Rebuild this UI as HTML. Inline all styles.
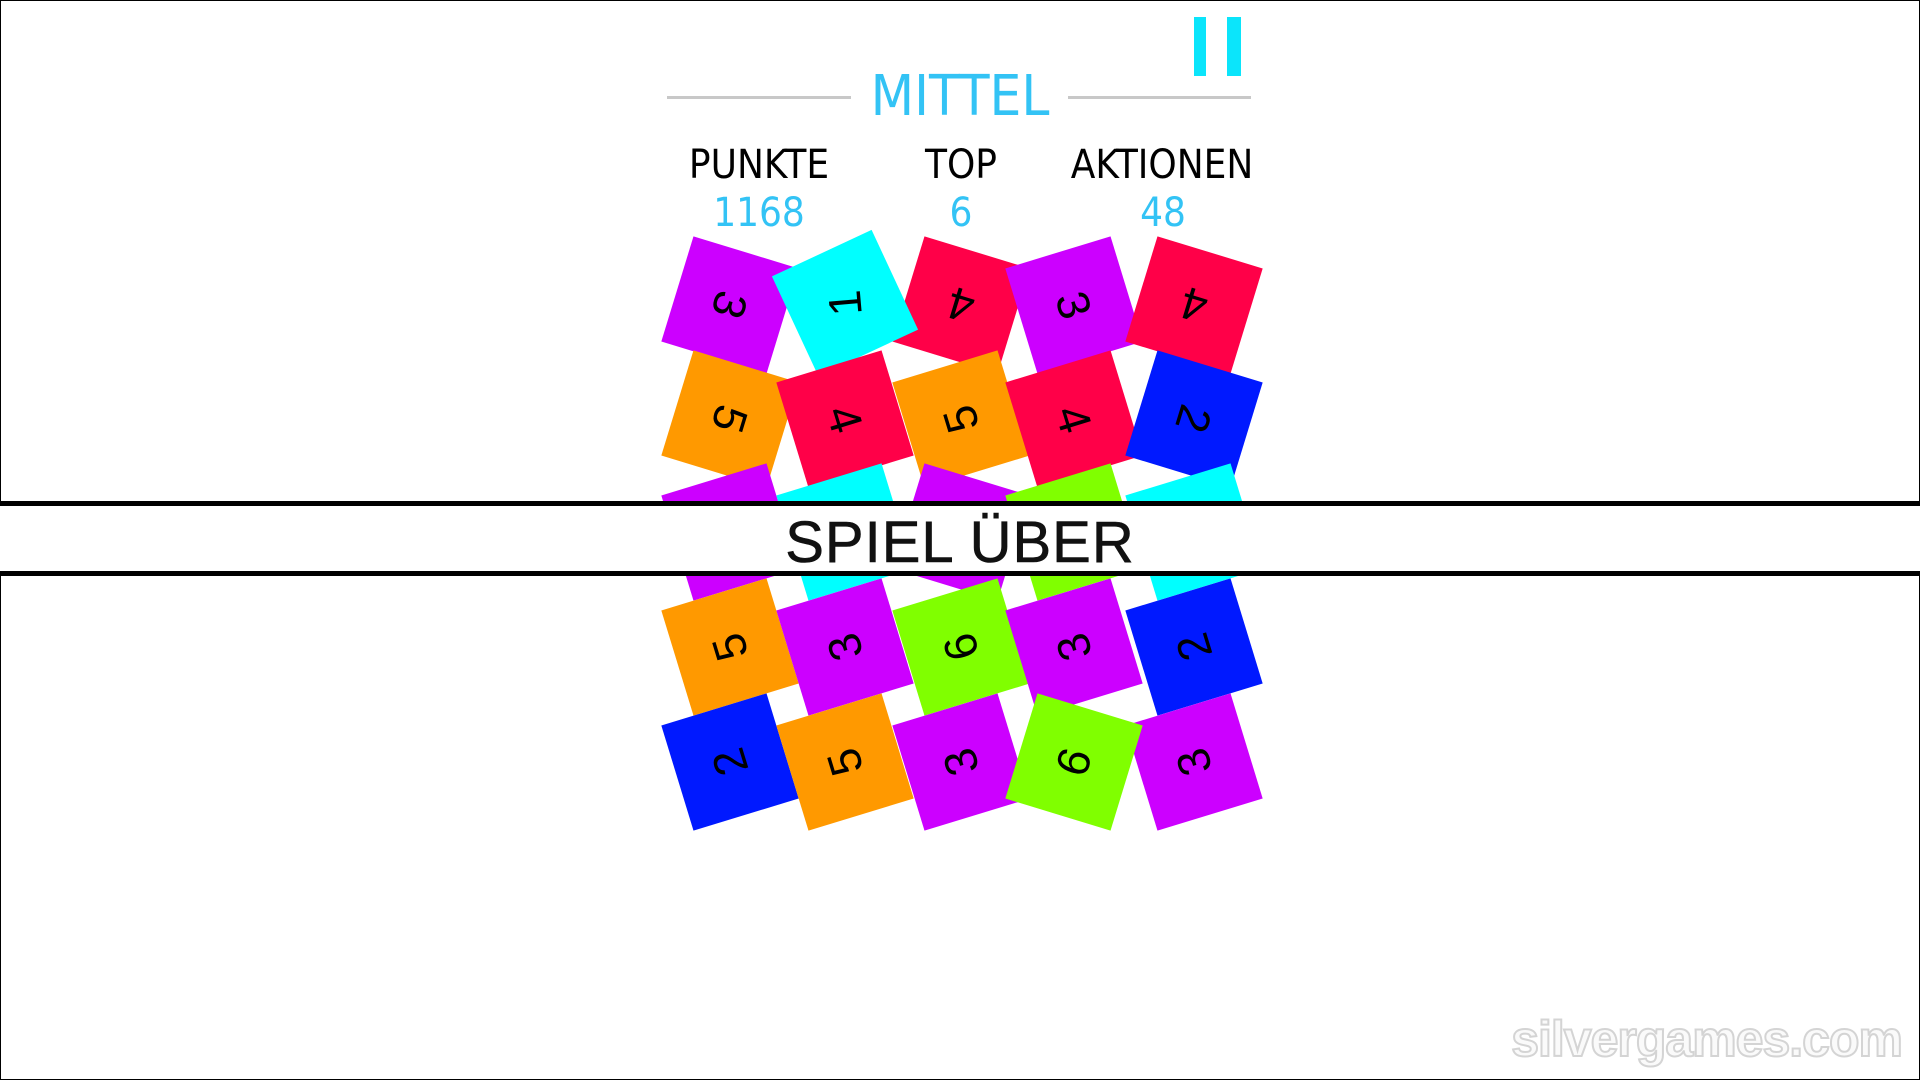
<!DOCTYPE html>
<html><head><meta charset="utf-8"><style>
body{margin:0;width:1920px;height:1080px;overflow:hidden;background:#fff;position:relative;font-family:"Liberation Sans",sans-serif}
.frame{position:absolute;left:0;top:0;width:1918px;height:1078px;border:1px solid #000}
.t{position:absolute;width:110px;height:110px;margin:-55px 0 0 -55px;display:flex;align-items:center;justify-content:center}
.t span{display:block;font-size:46px;color:#000;line-height:1}
.hl{position:absolute;height:3px;background:#c8c8c8;top:96px}
.lab{position:absolute;transform:translateX(-50%);font-family:"DejaVu Sans Condensed","Liberation Sans",sans-serif;white-space:nowrap}
</style></head><body>
<div class="frame"></div>
<div style="position:absolute;left:1194px;top:17px;width:12px;height:59px;background:#0be5fb"></div>
<div style="position:absolute;left:1227px;top:17px;width:14px;height:59px;background:#0be5fb"></div>
<div class="hl" style="left:667px;width:184px"></div>
<div class="hl" style="left:1068px;width:183px"></div>
<div class="lab" style="left:960px;top:64px;font-size:56px;color:#33c3f5">MITTEL</div>
<div class="lab" style="left:759px;top:142px;font-size:40px;color:#000">PUNKTE</div>
<div class="lab" style="left:961px;top:142px;font-size:40px;color:#000">TOP</div>
<div class="lab" style="left:1162px;top:142px;font-size:40px;color:#000">AKTIONEN</div>
<div class="lab" style="left:759px;top:190px;font-size:40px;color:#33c3f5">1168</div>
<div class="lab" style="left:961px;top:190px;font-size:40px;color:#33c3f5">6</div>
<div class="lab" style="left:1163px;top:190px;font-size:40px;color:#33c3f5">48</div>

<!-- row1 -->
<div class="t" style="left:730px;top:305px;background:#cc00ff;transform:rotate(17deg)"><span style="transform:rotate(90deg)">3</span></div>
<div class="t" style="left:961px;top:305px;background:#ff0048;transform:rotate(17deg)"><span style="transform:rotate(180deg)">4</span></div>
<div class="t" style="left:1074px;top:305px;background:#cc00ff;transform:rotate(-17deg)"><span style="transform:rotate(90deg)">3</span></div>
<div class="t" style="left:1194px;top:305px;background:#ff0048;transform:rotate(17deg)"><span style="transform:rotate(180deg)">4</span></div>
<div class="t" style="left:845px;top:303px;background:#00ffff;transform:rotate(-25deg)"><span style="transform:rotate(-70deg)">1</span></div>
<!-- row2 -->
<div class="t" style="left:730px;top:419px;background:#ff9900;transform:rotate(17deg)"><span style="transform:rotate(90deg)">5</span></div>
<div class="t" style="left:845px;top:419px;background:#ff0048;transform:rotate(-17deg)"><span style="transform:rotate(90deg)">4</span></div>
<div class="t" style="left:961px;top:419px;background:#ff9900;transform:rotate(-17deg)"><span style="transform:rotate(-90deg)">5</span></div>
<div class="t" style="left:1074px;top:419px;background:#ff0048;transform:rotate(-17deg)"><span style="transform:rotate(90deg)">4</span></div>
<div class="t" style="left:1194px;top:419px;background:#0019ff;transform:rotate(17deg)"><span style="transform:rotate(90deg)">2</span></div>
<!-- row3 -->
<div class="t" style="left:730px;top:532px;background:#cc00ff;transform:rotate(-17deg)"></div>
<div class="t" style="left:845px;top:532px;background:#00ffff;transform:rotate(-17deg)"></div>
<div class="t" style="left:961px;top:532px;background:#cc00ff;transform:rotate(17deg)"></div>
<div class="t" style="left:1074px;top:532px;background:#80ff00;transform:rotate(-17deg)"></div>
<div class="t" style="left:1194px;top:532px;background:#00ffff;transform:rotate(-17deg)"></div>
<!-- row4 -->
<div class="t" style="left:730px;top:647px;background:#ff9900;transform:rotate(-17deg)"><span style="transform:rotate(-90deg)">5</span></div>
<div class="t" style="left:845px;top:647px;background:#cc00ff;transform:rotate(-17deg)"><span style="transform:rotate(-90deg)">3</span></div>
<div class="t" style="left:961px;top:647px;background:#80ff00;transform:rotate(-17deg)"><span style="transform:rotate(-90deg)">6</span></div>
<div class="t" style="left:1074px;top:647px;background:#cc00ff;transform:rotate(-17deg)"><span style="transform:rotate(-90deg)">3</span></div>
<div class="t" style="left:1194px;top:647px;background:#0019ff;transform:rotate(-17deg)"><span style="transform:rotate(-90deg)">2</span></div>
<!-- row5 -->
<div class="t" style="left:730px;top:762px;background:#0019ff;transform:rotate(-17deg)"><span style="transform:rotate(-90deg)">2</span></div>
<div class="t" style="left:845px;top:762px;background:#ff9900;transform:rotate(-17deg)"><span style="transform:rotate(-90deg)">5</span></div>
<div class="t" style="left:961px;top:762px;background:#cc00ff;transform:rotate(-17deg)"><span style="transform:rotate(-90deg)">3</span></div>
<div class="t" style="left:1194px;top:762px;background:#cc00ff;transform:rotate(-17deg)"><span style="transform:rotate(-90deg)">3</span></div>
<div class="t" style="left:1074px;top:762px;background:#80ff00;transform:rotate(17deg)"><span style="transform:rotate(90deg)">9</span></div>

<!-- band -->
<div style="position:absolute;left:0;top:501px;width:1920px;height:75px;background:#fff;border-top:5px solid #000;border-bottom:5px solid #000;box-sizing:border-box"></div>
<div style="position:absolute;left:0;width:1920px;top:509px;text-align:center;font-size:58px;color:#111;letter-spacing:1px;-webkit-text-stroke:0.6px #111">SPIEL ÜBER</div>

<div style="position:absolute;right:18px;top:1010px;font-size:50px;font-weight:bold;color:#fafafa;-webkit-text-stroke:2px #d4d4d4;letter-spacing:-1px">silvergames.com</div>
</body></html>
